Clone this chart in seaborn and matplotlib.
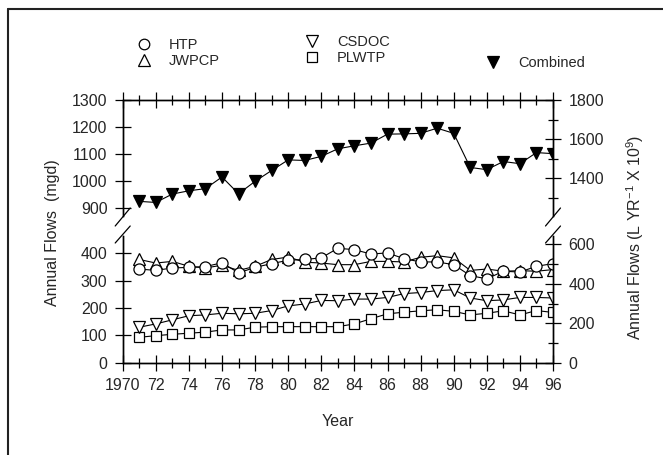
import matplotlib
matplotlib.use("Agg")
import matplotlib.pyplot as plt
from matplotlib.lines import Line2D
import seaborn as sns
import numpy as np

# ---------------- data ----------------
years = list(range(1971, 1997))
combined = [926, 922, 953, 965, 973, 1016, 954, 1000, 1040, 1079, 1077, 1092, 1120,
            1131, 1141, 1174, 1175, 1177, 1196, 1177, 1051, 1043, 1073, 1065, 1106, 1102]
htp = [343, 338, 347, 349, 352, 366, 329, 349, 363, 375, 378, 384, 419,
       414, 398, 402, 381, 369, 369, 359, 319, 307, 335, 332, 353, 363]
jwpcp = [378, 365, 371, 353, 347, 357, 338, 353, 378, 387, 368, 365, 359,
         359, 371, 371, 369, 386, 392, 384, 338, 343, 335, 337, 335, 341]
csdoc = [130, 142, 157, 172, 175, 181, 179, 181, 191, 208, 215, 228, 227,
         233, 233, 239, 253, 257, 264, 267, 237, 227, 230, 239, 239, 237]
plwtp = [93, 99, 104, 108, 112, 120, 120, 130, 132, 132, 132, 132, 132,
         142, 161, 179, 185, 190, 194, 188, 175, 181, 190, 175, 191, 184]

xtick_vals = list(range(1970, 1997, 2))
xtick_labels = ["1970"] + [str(v % 100) for v in xtick_vals[1:]]
left_upper_ticks = [900, 1000, 1100, 1200, 1300]
left_lower_ticks = [0, 100, 200, 300, 400]
right_upper_ticks = [1400, 1600, 1800]
right_lower_ticks = [0, 200, 400, 600]
conv = 1800 / 1300  # mgd -> L/yr x 1e9 (right axis scale)

# ---------------- style ----------------
sns.set_style("ticks")
plt.rcParams["font.family"] = ["Liberation Sans", "DejaVu Sans"]
plt.rcParams["mathtext.fontset"] = "custom"
plt.rcParams["mathtext.rm"] = "Liberation Sans"
plt.rcParams["mathtext.it"] = "Liberation Sans:italic"
FS = 11.5

W, H = 663, 455
fig = plt.figure(figsize=(W / 100, H / 100), dpi=100)
fig.patch.set_facecolor("white")


def fx(px):
    return px / W


def fy(py):
    return 1 - py / H


x0, x1 = 122.7, 553.0
up_top, up_bot = 100.0, 216.0
lo_top, lo_bot = 236.0, 362.7

ax_up = fig.add_axes([fx(x0), fy(up_bot), fx(x1) - fx(x0), fy(up_top) - fy(up_bot)])
ax_lo = fig.add_axes([fx(x0), fy(lo_bot), fx(x1) - fx(x0), fy(lo_top) - fy(lo_bot)])

line_kw = dict(color="black", linewidth=0.8, markeredgecolor="black",
               markeredgewidth=0.9)

styles = {
    "PLWTP": dict(marker="s", markerfacecolor="white", markersize=7.5),
    "CSDOC": dict(marker="v", markerfacecolor="white", markersize=8.5),
    "JWPCP": dict(marker="^", markerfacecolor="white", markersize=8.5),
    "HTP": dict(marker="o", markerfacecolor="white", markersize=8),
    "Combined": dict(marker="v", markerfacecolor="black", markersize=9),
}

sns.lineplot(x=years, y=plwtp, ax=ax_lo, **styles["PLWTP"], **line_kw)
sns.lineplot(x=years, y=csdoc, ax=ax_lo, **styles["CSDOC"], **line_kw)
sns.lineplot(x=years, y=jwpcp, ax=ax_lo, **styles["JWPCP"], **line_kw)
sns.lineplot(x=years, y=htp, ax=ax_lo, **styles["HTP"], **line_kw)
sns.lineplot(x=years, y=combined, ax=ax_up, **styles["Combined"], **line_kw)


def proxy(name):
    st = dict(styles[name])
    st["markersize"] = st["markersize"] * 0.95
    return Line2D([], [], linestyle="none", markeredgecolor="black",
                  markeredgewidth=0.9, **st)


ax_up.set_ylim(872, 1300)
ax_lo.set_ylim(0, 464)
for ax in (ax_up, ax_lo):
    ax.set_xlim(1970, 1996)
    ax.set_xlabel("")
    ax.set_ylabel("")
    for s in ax.spines.values():
        s.set_color("black")
        s.set_linewidth(1.0)

# upper panel
ax_up.spines["bottom"].set_visible(False)
ax_up.set_yticks(left_upper_ticks)
ax_up.xaxis.tick_top()
ax_up.set_xticks(xtick_vals)
ax_up.set_xticks(years, minor=True)
ax_up.tick_params(axis="x", which="both", top=True, bottom=False, labeltop=False,
                  labelbottom=False)

# lower panel
ax_lo.spines["top"].set_visible(False)
ax_lo.set_yticks(left_lower_ticks)
ax_lo.set_xticks(xtick_vals)
ax_lo.set_xticklabels(xtick_labels)
ax_lo.set_xticks(years, minor=True)
ax_lo.tick_params(axis="x", which="both", top=False, bottom=True)

for ax in (ax_up, ax_lo):
    ax.tick_params(which="major", direction="inout", length=12, width=0.9,
                   color="black", labelsize=FS, pad=6)
    ax.tick_params(which="minor", direction="inout", length=7, width=0.9,
                   color="black")
    ax.tick_params(axis="y", which="major", pad=5)
    ax.tick_params(axis="x", which="major", pad=5)

# right axes
for ax, ticks, minors in ((ax_up, right_upper_ticks, [1300, 1500, 1700]),
                          (ax_lo, right_lower_ticks, [100, 300, 500])):
    r = ax.twinx()
    lo, hi = ax.get_ylim()
    r.set_ylim(lo * conv, hi * conv)
    r.set_yticks(ticks)
    r.set_yticks(minors, minor=True)
    r.tick_params(which="major", direction="inout", length=12, width=0.9,
                  color="black", labelsize=FS, pad=5)
    r.tick_params(which="minor", direction="inout", length=7, width=0.9,
                  color="black")
    for s in r.spines.values():
        s.set_color("black")
        s.set_linewidth(1.0)
    if ax is ax_up:
        r.spines["bottom"].set_visible(False)
    else:
        r.spines["top"].set_visible(False)

# break marks
for xc in (x0, x1):
    for (ya, yb) in ((226, 208), (243, 226)):
        fig.add_artist(Line2D([fx(xc - 7.5), fx(xc + 7.5)], [fy(ya), fy(yb)],
                              transform=fig.transFigure, color="black",
                              linewidth=0.9))

# labels
fig.text(fx(338), fy(421), "Year", ha="center", va="center", fontsize=FS)
fig.text(fx(53), fy(233), "Annual Flows  (mgd)", rotation=90, ha="center",
         va="center", fontsize=FS)
fig.text(fx(635), fy(237), r"Annual Flows (L YR$^{-1}$ X 10$^{9}$)", rotation=90,
         ha="center", va="center", fontsize=FS)

# legends
LFS = 10.5
leg_kw = dict(frameon=False, fontsize=LFS, handlelength=1.0, handletextpad=1.2,
              borderpad=0, borderaxespad=0, labelspacing=0.15, numpoints=1,
              loc="upper left")
fig.legend([proxy("HTP"), proxy("JWPCP")], ["HTP", "JWPCP"],
           bbox_to_anchor=(fx(137), fy(38)), **leg_kw)
fig.legend([proxy("CSDOC"), proxy("PLWTP")], ["CSDOC", "PLWTP"],
           bbox_to_anchor=(fx(305), fy(35)), **leg_kw)
fig.legend([proxy("Combined")], ["Combined"],
           bbox_to_anchor=(fx(486), fy(56)), **leg_kw)

# figure border (top and left visible)
fig.add_artist(Line2D([fx(7.5), 1.0], [fy(8.5), fy(8.5)], transform=fig.transFigure,
                      color="#222222", linewidth=1.5))
fig.add_artist(Line2D([fx(7.5), fx(7.5)], [fy(8.5), 0.0], transform=fig.transFigure,
                      color="#222222", linewidth=1.5))

fig.savefig("out.png", dpi=100)
